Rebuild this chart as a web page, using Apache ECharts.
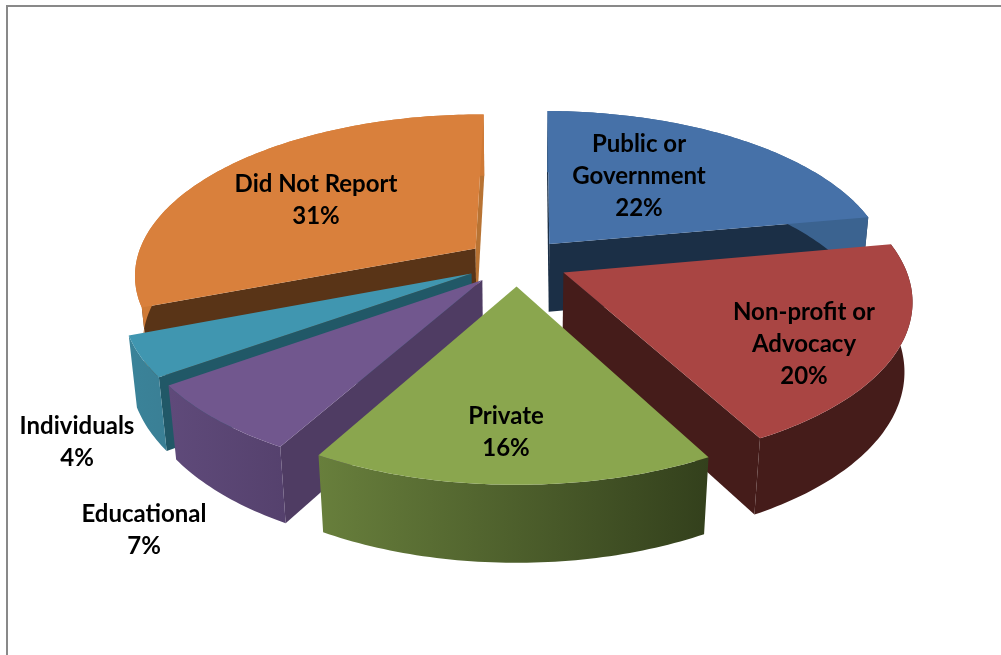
<!DOCTYPE html>
<html>
<head>
<meta charset="utf-8">
<style>html,body{margin:0;padding:0;background:#fff}#chart{width:1001px;height:655px}</style>
<script src="https://cdn.jsdelivr.net/npm/echarts@6/dist/echarts.min.js"></script>
</head>
<body>
<div id="chart"></div>
<script>
// Funding sources, in clockwise order from twelve o'clock
const sourceNames = ['Public or\nGovernment', 'Non-profit or\nAdvocacy', 'Private', 'Educational', 'Individuals', 'Did Not Report'];
const sharePercents = [22, 20, 16, 7, 4, 31];

// Back-to-front painting order of the exploded slices
const paintOrder = [0, 5, 4, 1, 3, 2];

// Slice colours: top face, cut faces, outer wall gradient
const topColors = ['#4671A8', '#A94543', '#8AA64E', '#71578E', '#4096B0', '#D9803C'];
const startCutColors = ['#1B2F46', '#451C1A', '#36421D', '#4F3C63', '#215867', '#593417'];
const endCutColors = ['#1B2F46', '#451C1A', '#36421D', '#4F3C63', '#215867', '#B87333'];
const wallColors = [
  ['#3B6390', '#3B6390'], ['#451C1A', '#451C1A'], ['#687F3C', '#33401C'],
  ['#5F4A7A', '#55416D'], ['#3A8399', '#3A7F95'], ['#CF7A36', '#CF7A36']
];

// Label anchors per slice, in page pixels
const labelX = [639, 804, 506, 144, 77, 316];
const labelY = [176, 344, 432, 530, 442, 200];

// Perspective model of the disc: unit circle seen from above
const CX = 517, CY = 262, RX = 340, RY = 159;
const K = 0.156, M = 0.02, H = 70, EXPLODE = 0.15, START_DEG = 0.5;

function project(u, v, t) {
  const w = 1 + K * v + M * t;
  return [CX + RX * u / w, CY + (-RY * v + H * t) / w];
}

function sliceAngles(i) {
  let before = 0;
  for (let j = 0; j < i; j++) before += sharePercents[j];
  const total = sharePercents.reduce((a, b) => a + b, 0);
  const a0 = START_DEG + before / total * 360;
  return [a0, a0 + sharePercents[i] / total * 360];
}

function shoelace(pts) {
  let s = 0;
  pts.forEach((p, n) => {
    const q = pts[(n + 1) % pts.length];
    s += p[0] * q[1] - q[0] * p[1];
  });
  return s / 2;
}

function renderSlice(params) {
  const i = paintOrder[params.dataIndex];
  const [a0, a1] = sliceAngles(i);
  const mid = (a0 + a1) / 2 * Math.PI / 180;
  const ou = EXPLODE * Math.sin(mid), ov = EXPLODE * Math.cos(mid);
  const rimTop = [], rimBottom = [];
  const steps = Math.ceil(a1 - a0);
  for (let n = 0; n <= steps; n++) {
    const a = (a0 + (a1 - a0) * n / steps) * Math.PI / 180;
    rimTop.push(project(ou + Math.sin(a), ov + Math.cos(a), 0));
    rimBottom.push(project(ou + Math.sin(a), ov + Math.cos(a), 1));
  }
  const tipTop = project(ou, ov, 0), tipBottom = project(ou, ov, 1);
  const children = [];
  const startCut = [tipTop, rimTop[0], rimBottom[0], tipBottom];
  const endCut = [tipTop, rimTop[steps], rimBottom[steps], tipBottom];
  if (shoelace(startCut) < 0) {
    children.push({ type: 'polygon', shape: { points: startCut }, style: { fill: startCutColors[i] } });
  }
  if (shoelace(endCut) > 0) {
    children.push({ type: 'polygon', shape: { points: endCut }, style: { fill: endCutColors[i] } });
  }
  children.push({
    type: 'polygon',
    shape: { points: rimTop.concat(rimBottom.slice().reverse()) },
    style: {
      fill: {
        type: 'linear', x: 0, y: 0, x2: 1, y2: 0,
        colorStops: [{ offset: 0, color: wallColors[i][0] }, { offset: 1, color: wallColors[i][1] }]
      }
    }
  });
  children.push({
    type: 'polygon',
    shape: { points: [tipTop].concat(rimTop) },
    style: { fill: topColors[i] }
  });
  children.push({
    type: 'text',
    z2: 10,
    style: {
      x: labelX[i], y: labelY[i],
      text: sourceNames[i] + '\n' + sharePercents[i] + '%',
      fill: '#000', font: 'bold 24px Lato, "Open Sans", sans-serif',
      align: 'center', verticalAlign: 'middle', lineHeight: 32
    }
  });
  return { type: 'group', children: children };
}

const chart = echarts.init(document.getElementById('chart'), null, { renderer: 'canvas' });
chart.setOption({
  animation: false,
  backgroundColor: '#fff',
  graphic: [
    { type: 'rect', shape: { x: 6, y: 5, width: 995, height: 2 }, style: { fill: '#898989' }, silent: true },
    { type: 'rect', shape: { x: 6, y: 5, width: 2, height: 650 }, style: { fill: '#898989' }, silent: true }
  ],
  series: [{
    type: 'custom',
    coordinateSystem: 'none',
    silent: true,
    renderItem: renderSlice,
    data: paintOrder.map(i => ({ name: sourceNames[i], value: sharePercents[i] }))
  }]
});
</script>
</body>
</html>
